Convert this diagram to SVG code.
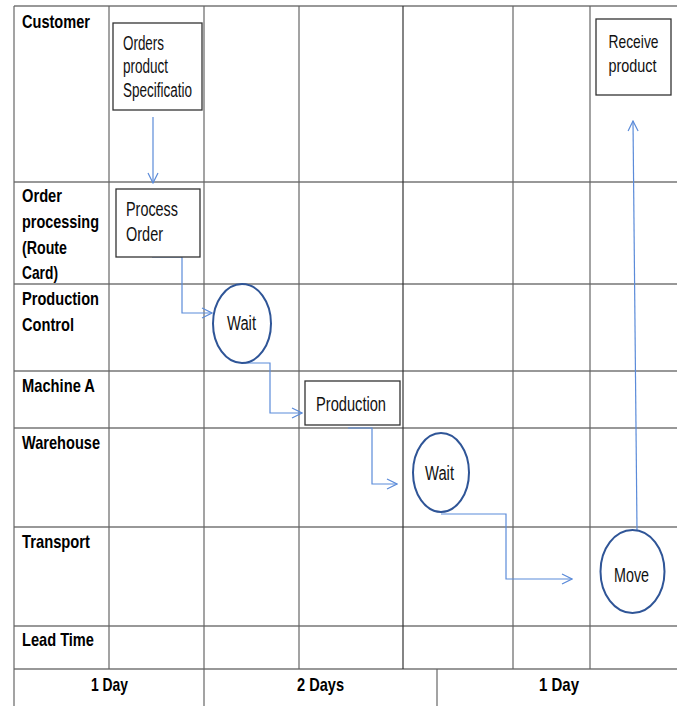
<svg xmlns="http://www.w3.org/2000/svg" width="677" height="706" viewBox="0 0 677 706">
<style>
.grid{stroke:#333;stroke-width:1.2;fill:none}
.gridl{stroke:#666;stroke-width:1.2;fill:none}
.lbl{font-family:"Liberation Sans",Arial,sans-serif;font-weight:bold;font-size:19px;fill:#000}
.txt{font-family:"Liberation Sans",Arial,sans-serif;font-size:20px;fill:#111}
.box{fill:#fff;stroke:#333;stroke-width:1.3}
.circ{fill:#fff;stroke:#2F5597;stroke-width:2}
.con{stroke:#5B8BD9;stroke-width:1.2;fill:none}
</style>
<defs>
<marker id="arr" viewBox="0 0 12 12" refX="11" refY="6" markerWidth="12" markerHeight="12" markerUnits="userSpaceOnUse" orient="auto">
<path d="M1,1 L11,6 L1,11" fill="none" stroke="#5B8BD9" stroke-width="1.2"/>
</marker>
</defs>
<rect width="677" height="706" fill="#fff"/>
<g id="grid">
<line class="grid" x1="14" y1="6" x2="677" y2="6"/>
<line class="grid" x1="14" y1="182" x2="677" y2="182"/>
<line class="grid" x1="14" y1="284" x2="677" y2="284"/>
<line class="grid" x1="14" y1="371" x2="677" y2="371"/>
<line class="grid" x1="14" y1="428" x2="677" y2="428"/>
<line class="grid" x1="14" y1="527" x2="677" y2="527"/>
<line class="grid" x1="14" y1="626" x2="677" y2="626"/>
<line class="grid" x1="14" y1="669" x2="677" y2="669"/>
<line class="gridl" x1="14" y1="6" x2="14" y2="706"/>
<line class="gridl" x1="109" y1="6" x2="109" y2="669"/>
<line class="gridl" x1="204" y1="6" x2="204" y2="706"/>
<line class="gridl" x1="299" y1="6" x2="299" y2="669"/>
<line class="grid" x1="403" y1="6" x2="403" y2="669"/>
<line class="gridl" x1="513" y1="6" x2="513" y2="669"/>
<line class="gridl" x1="590" y1="6" x2="590" y2="669"/>
<line class="gridl" x1="437" y1="669" x2="437" y2="706"/>
</g>
<g id="labels">
<text class="lbl" x="22" y="28" textLength="68" lengthAdjust="spacingAndGlyphs">Customer</text>
<text class="lbl" x="22" y="202" textLength="40" lengthAdjust="spacingAndGlyphs">Order</text>
<text class="lbl" x="22" y="228" textLength="77" lengthAdjust="spacingAndGlyphs">processing</text>
<text class="lbl" x="22" y="254" textLength="45" lengthAdjust="spacingAndGlyphs">(Route</text>
<text class="lbl" x="22" y="279" textLength="36" lengthAdjust="spacingAndGlyphs">Card)</text>
<text class="lbl" x="22" y="305" textLength="77" lengthAdjust="spacingAndGlyphs">Production</text>
<text class="lbl" x="22" y="331" textLength="52" lengthAdjust="spacingAndGlyphs">Control</text>
<text class="lbl" x="22" y="392" textLength="73" lengthAdjust="spacingAndGlyphs">Machine A</text>
<text class="lbl" x="22" y="449" textLength="78" lengthAdjust="spacingAndGlyphs">Warehouse</text>
<text class="lbl" x="22" y="548" textLength="68" lengthAdjust="spacingAndGlyphs">Transport</text>
<text class="lbl" x="22" y="646" textLength="72" lengthAdjust="spacingAndGlyphs">Lead Time</text>
<text class="lbl" x="91" y="691" textLength="37" lengthAdjust="spacingAndGlyphs">1 Day</text>
<text class="lbl" x="297" y="691" textLength="47" lengthAdjust="spacingAndGlyphs">2 Days</text>
<text class="lbl" x="539" y="691" textLength="40" lengthAdjust="spacingAndGlyphs">1 Day</text>
</g>
<g id="connectors">
<line class="con" x1="153" y1="117" x2="153" y2="183" marker-end="url(#arr)"/>
<polyline class="con" points="152,257 182,257 182,313 212,313" marker-end="url(#arr)"/>
<polyline class="con" points="242,363 270,363 270,413 302,413" marker-end="url(#arr)"/>
<polyline class="con" points="348,428 372,428 372,484 397,484" marker-end="url(#arr)"/>
<polyline class="con" points="441,514 506,514 506,579 572,579" marker-end="url(#arr)"/>
<line class="con" x1="637" y1="530" x2="633" y2="121" marker-end="url(#arr)"/>
</g>
<g id="orders">
<rect class="box" x="113" y="23" width="89" height="87"/>
<text class="txt" x="123" y="50" textLength="41" lengthAdjust="spacingAndGlyphs">Orders</text>
<text class="txt" x="123" y="73" textLength="45" lengthAdjust="spacingAndGlyphs">product</text>
<text class="txt" x="123" y="97" textLength="69" lengthAdjust="spacingAndGlyphs">Specificatio</text>
</g>
<g id="process">
<rect class="box" x="116" y="189" width="84" height="68"/>
<text class="txt" x="126" y="216" textLength="52" lengthAdjust="spacingAndGlyphs">Process</text>
<text class="txt" x="126" y="241" textLength="37" lengthAdjust="spacingAndGlyphs">Order</text>
</g>
<g id="wait1">
<ellipse class="circ" cx="242" cy="323.5" rx="29" ry="39.5"/>
<text class="txt" x="227" y="330" textLength="29" lengthAdjust="spacingAndGlyphs">Wait</text>
</g>
<g id="production">
<rect class="box" x="305" y="381" width="95" height="44"/>
<text class="txt" x="316" y="411" textLength="70" lengthAdjust="spacingAndGlyphs">Production</text>
</g>
<g id="wait2">
<ellipse class="circ" cx="441" cy="472.5" rx="28" ry="39.5"/>
<text class="txt" x="425" y="480" textLength="29" lengthAdjust="spacingAndGlyphs">Wait</text>
</g>
<g id="move">
<ellipse class="circ" cx="632.5" cy="571.5" rx="32" ry="41.5"/>
<text class="txt" x="614" y="582" textLength="35" lengthAdjust="spacingAndGlyphs">Move</text>
</g>
<g id="receive">
<rect class="box" x="596" y="19" width="75" height="76"/>
<text class="txt" x="608.5" y="48" textLength="50" lengthAdjust="spacingAndGlyphs" style="font-size:19px">Receive</text>
<text class="txt" x="608.5" y="72" textLength="48" lengthAdjust="spacingAndGlyphs" style="font-size:19px">product</text>
</g>
</svg>
